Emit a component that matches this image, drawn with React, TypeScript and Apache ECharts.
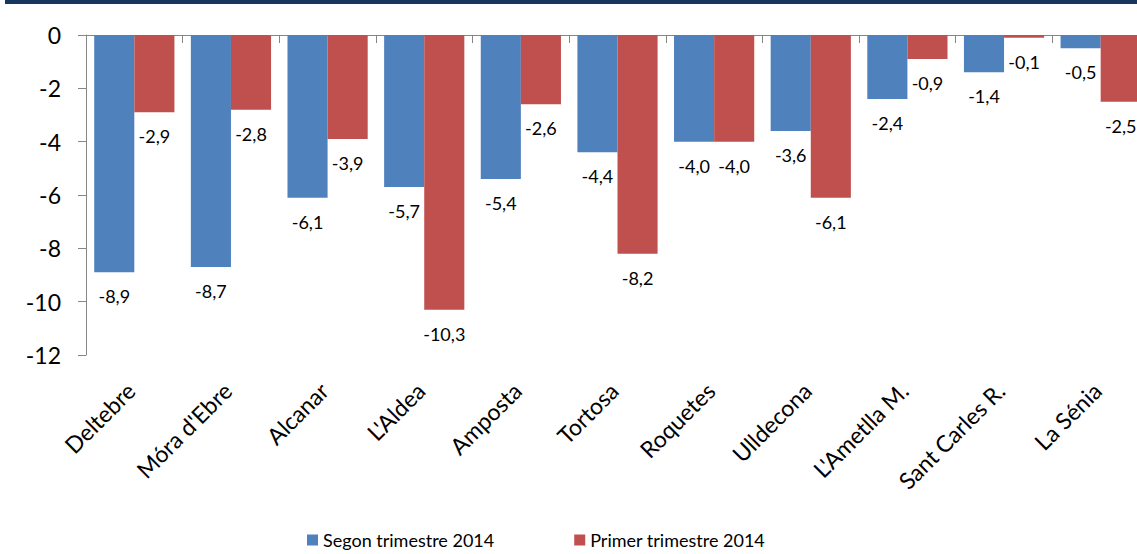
import React, { useEffect, useRef } from "react";
import * as echarts from "echarts";

const categories = [
  "Deltebre",
  "Móra d'Ebre",
  "Alcanar",
  "L'Aldea",
  "Amposta",
  "Tortosa",
  "Roquetes",
  "Ulldecona",
  "L'Ametlla M.",
  "Sant Carles R.",
  "La Sénia",
];
const segonValues = [-8.9, -8.7, -6.1, -5.7, -5.4, -4.4, -4.0, -3.6, -2.4, -1.4, -0.5];
const primerValues = [-2.9, -2.8, -3.9, -10.3, -2.6, -8.2, -4.0, -6.1, -0.9, -0.1, -2.5];
const seriesNames = ["Segon trimestre 2014", "Primer trimestre 2014"];
const yTicks = { min: -12, max: 0, interval: 2 };

const FONT = "Lato";
const fmt = (v: number) => v.toFixed(1).replace(".", ",");

export default function App() {
  const ref = useRef<HTMLDivElement>(null);
  useEffect(() => {
    if (!ref.current) return;
    const chart = echarts.init(ref.current, undefined, { renderer: "svg" });
    const label = {
      show: true,
      position: "bottom",
      distance: 15,
      fontFamily: FONT,
      fontSize: 18,
      color: "#000",
      formatter: (p: any) => fmt(p.value),
    };
    chart.setOption({
      animation: false,
      textStyle: { fontFamily: FONT },
      graphic: [
        {
          type: "rect",
          shape: { x: 5, y: 0, width: 1200, height: 4 },
          style: { fill: "#17375E" },
          silent: true,
        },
      ],
      grid: { left: 86, top: 35, width: 1063, height: 320 },
      legend: {
        left: 302,
        top: 524,
        icon: "rect",
        itemWidth: 11,
        itemHeight: 11,
        itemGap: 80,
        textStyle: { fontFamily: FONT, fontSize: 18, color: "#000", lineHeight: 22 },
        data: seriesNames,
      },
      xAxis: [
        {
          type: "category",
          data: categories,
          position: "bottom",
          axisLine: { show: false, onZero: false },
          axisTick: { show: false },
          axisLabel: {
            rotate: 45,
            margin: 28,
            interval: 0,
            padding: [0, 5, 0, 0],
            fontFamily: FONT,
            fontSize: 23,
            color: "#000",
          },
        },
        {
          type: "category",
          data: categories,
          position: "top",
          axisLine: { show: true, onZero: false, lineStyle: { color: "#868686", width: 1 } },
          axisTick: { show: true, inside: true, length: 8, lineStyle: { color: "#868686" } },
          axisLabel: { show: false },
        },
      ],
      yAxis: {
        type: "value",
        min: yTicks.min,
        max: yTicks.max,
        interval: yTicks.interval,
        axisLine: { show: true, lineStyle: { color: "#868686", width: 1 } },
        axisTick: { show: true, length: 8, lineStyle: { color: "#868686" } },
        splitLine: { show: false },
        axisLabel: {
          margin: 25,
          fontFamily: FONT,
          fontSize: 23,
          color: "#000",
        },
      },
      series: [
        {
          name: seriesNames[0],
          type: "bar",
          data: segonValues,
          xAxisIndex: 0,
          barGap: "0%",
          barCategoryGap: "17%",
          itemStyle: { color: "#4F81BD" },
          label,
        },
        {
          name: seriesNames[1],
          type: "bar",
          data: primerValues,
          xAxisIndex: 0,
          barGap: "0%",
          barCategoryGap: "17%",
          itemStyle: { color: "#C0504D" },
          label,
        },
      ],
    });
    return () => chart.dispose();
  }, []);
  return (
    <div
      ref={ref}
      style={{ position: "fixed", left: 0, top: 0, width: 1160, height: 554, background: "#fff" }}
    />
  );
}
